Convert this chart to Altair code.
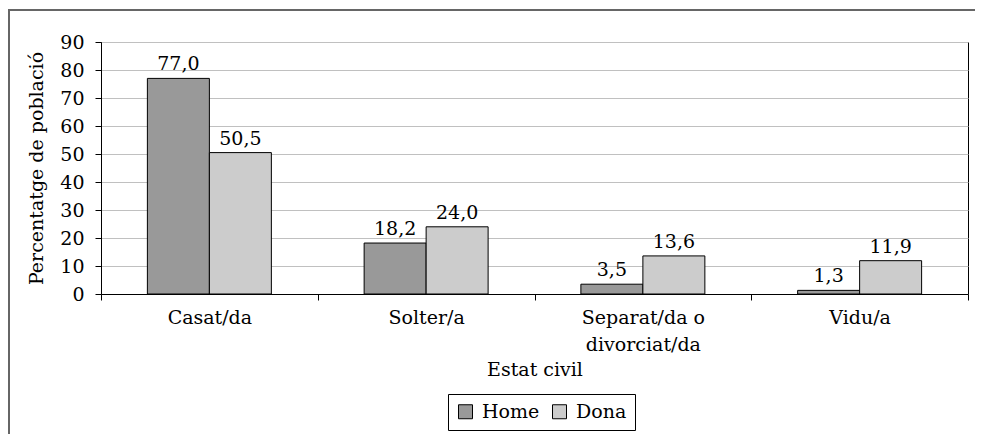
import altair as alt
import pandas as pd

categories = ["Casat/da", "Solter/a", "Separat/da o divorciat/da", "Vidu/a"]
home = [77.0, 18.2, 3.5, 1.3]
dona = [50.5, 24.0, 13.6, 11.9]
series = ["Home", "Dona"]
colors = ["#999999", "#cccccc"]
y_ticks = [0, 10, 20, 30, 40, 50, 60, 70, 80, 90]

rows = []
for c, h, d in zip(categories, home, dona):
    rows.append({"cat": c, "sexe": "Home", "val": h, "lab": f"{h:.1f}".replace(".", ",")})
    rows.append({"cat": c, "sexe": "Dona", "val": d, "lab": f"{d:.1f}".replace(".", ",")})
df = pd.DataFrame(rows)

FONT = "DejaVu Serif"
FS = 19

x_enc = alt.X(
    "cat:N",
    sort=categories,
    scale=alt.Scale(paddingInner=0, paddingOuter=0),
    axis=alt.Axis(
        title="Estat civil",
        labelAngle=0,
        tickBand="extent",
        tickSize=6,
        labelPadding=8,
        titlePadding=6,
        grid=False,
        labelExpr="datum.label == 'Separat/da o divorciat/da' ? ['Separat/da o', 'divorciat/da'] : datum.label",
        labelLineHeight=27,
    ),
)
xoff = alt.XOffset("sexe:N", sort=series, scale=alt.Scale(paddingInner=0, paddingOuter=0.748))
y_enc = alt.Y(
    "val:Q",
    scale=alt.Scale(domain=[0, 90], nice=False),
    axis=alt.Axis(
        title="Percentatge de població",
        values=y_ticks,
        tickSize=6,
        labelPadding=11,
        titlePadding=13,
        grid=True,
    ),
)

bars = alt.Chart(df).mark_bar(stroke="black", strokeWidth=1).encode(
    x=x_enc,
    xOffset=xoff,
    y=y_enc,
    color=alt.Color(
        "sexe:N",
        sort=series,
        scale=alt.Scale(domain=series, range=colors),
        title=None,
        legend=alt.Legend(
            orient="none",
            legendX=347,
            legendY=352,
            direction="horizontal",
            symbolType="square",
            symbolSize=196,
            symbolStrokeColor="black",
            symbolStrokeWidth=1,
            labelFontSize=FS,
            labelFont=FONT,
            labelColor="black",
            labelOffset=7,
            columnPadding=10,
            padding=8,
            strokeColor="black",
        ),
    ),
)

labels = alt.Chart(df).mark_text(
    baseline="alphabetic", dy=-8, font=FONT, fontSize=FS, color="black"
).encode(x=x_enc, xOffset=xoff, y=y_enc, text="lab:N")

frame_df = pd.DataFrame([{"k": 1}])
left_line = alt.Chart(frame_df).mark_rule(color="#666666", strokeWidth=2).encode(
    x=alt.value(-92), y=alt.value(-32), y2=alt.value(402)
)
top_line = alt.Chart(frame_df).mark_rule(color="#666666", strokeWidth=2).encode(
    x=alt.value(-93), x2=alt.value(890), y=alt.value(-32), y2=alt.value(-32)
)

chart = (
    alt.layer(bars, labels, left_line, top_line)
    .properties(
        width=867,
        height=252,
        autosize=alt.AutoSizeParams(type="none"),
        padding={"left": 93, "top": 34, "right": 7, "bottom": 140},
    )
    .configure_view(stroke="black", strokeWidth=1)
    .configure_axis(
        labelFont=FONT,
        titleFont=FONT,
        labelFontSize=FS,
        titleFontSize=FS,
        titleFontWeight="normal",
        labelColor="black",
        titleColor="black",
        domainColor="black",
        tickColor="black",
        gridColor="#c0c0c0",
        domainWidth=1,
    )
)

chart.save("out.html", embed_options={"renderer": "svg", "actions": False})
